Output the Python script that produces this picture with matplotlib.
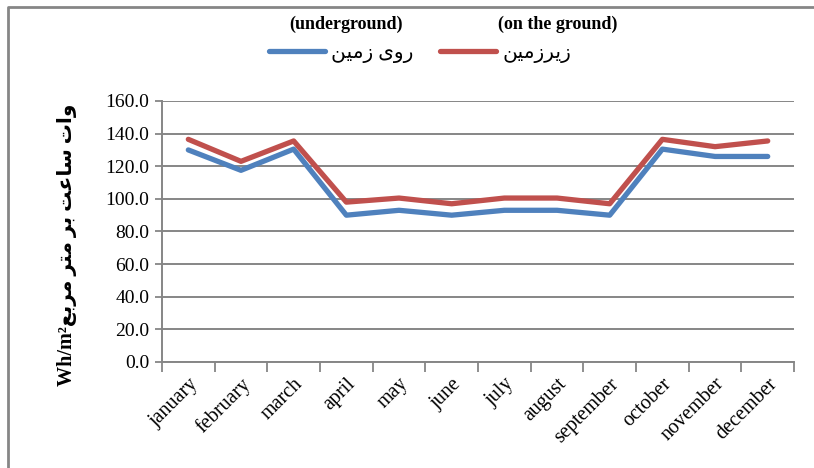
import numpy as np
import matplotlib
matplotlib.use('Agg')
import matplotlib.pyplot as plt
from matplotlib.lines import Line2D
from matplotlib.transforms import ScaledTranslation

plt.rcParams['font.family'] = ['Liberation Serif', 'DejaVu Sans']

months = ['january', 'february', 'march', 'april', 'may', 'june', 'july',
          'august', 'september', 'october', 'november', 'december']
# blue series, legend "(underground)" / روی زمین
blue_vals = [130.0, 117.5, 130.5, 90.0, 93.0, 90.0, 93.0, 93.0, 90.0, 130.5, 126.0, 126.0]
# red series, legend "(on the ground)" / زیرزمین
red_vals = [136.5, 123.0, 135.5, 98.0, 100.5, 97.0, 100.5, 100.5, 97.0, 136.5, 132.0, 135.5]
blue_label = 'روی زمین'
red_label = 'زیرزمین'
ylabel_fa = 'وات ساعت بر متر مربع'
ylabel_en = 'Wh/m\u00b2'

# matplotlib does no arabic shaping / bidi, so do a small one by hand
# letter: (isolated, final, initial, medial); None initial => right-joining only
forms = {
    'ا': ('\ufe8d', '\ufe8e', None, None),
    'ب': ('\ufe8f', '\ufe90', '\ufe91', '\ufe92'),
    'ت': ('\ufe95', '\ufe96', '\ufe97', '\ufe98'),
    'ر': ('\ufead', '\ufeae', None, None),
    'ز': ('\ufeaf', '\ufeb0', None, None),
    'س': ('\ufeb1', '\ufeb2', '\ufeb3', '\ufeb4'),
    'ع': ('\ufec9', '\ufeca', '\ufecb', '\ufecc'),
    'م': ('\ufee1', '\ufee2', '\ufee3', '\ufee4'),
    'ن': ('\ufee5', '\ufee6', '\ufee7', '\ufee8'),
    'و': ('\ufeed', '\ufeee', None, None),
    'ی': ('\ufeef', '\ufef0', '\ufef3', '\ufef4'),
}


def shape(s):
    out = []
    for i, c in enumerate(s):
        if c not in forms:
            out.append(c)
            continue
        prev = s[i - 1] if i > 0 else ''
        nxt = s[i + 1] if i + 1 < len(s) else ''
        j_prev = prev in forms and forms[prev][2] is not None
        j_next = nxt in forms and forms[c][2] is not None
        iso, fin, ini, med = forms[c]
        if j_prev and j_next:
            out.append(med)
        elif j_next:
            out.append(ini)
        elif j_prev:
            out.append(fin)
        else:
            out.append(iso)
    return ''.join(out)[::-1]


gray = '#868686'
fig = plt.figure(figsize=(8.14, 4.68), dpi=100)
ax = fig.add_axes([0.199, 0.2265, 0.7765, 0.5577])

x = np.arange(len(months))
ax.plot(x, blue_vals, color='#4F81BD', lw=3.8, solid_capstyle='round', solid_joinstyle='round',
        label=shape(blue_label))
ax.plot(x, red_vals, color='#C0504D', lw=3.8, solid_capstyle='round', solid_joinstyle='round',
        label=shape(red_label))

ax.set_xlim(-0.5, 11.5)
ax.set_ylim(0, 160)
ax.set_yticks(np.arange(0, 161, 20))
ax.set_yticklabels(['%.1f' % v for v in np.arange(0, 161, 20)], fontsize=14)
ax.set_xticks(x)
ax.set_xticklabels(months, fontsize=14.5, rotation=45, ha='right', va='top',
                   rotation_mode='anchor')
# nudge month labels a few pixels left
shift = ScaledTranslation(-4 / 100, 0, fig.dpi_scale_trans)
for lbl in ax.get_xticklabels():
    lbl.set_transform(lbl.get_transform() + shift)
ax.set_xticks(np.arange(-0.5, 12, 1), minor=True)
ax.tick_params(axis='x', which='major', length=0, pad=9)
ax.tick_params(axis='x', which='minor', length=7, color=gray, width=1.3)
ax.tick_params(axis='y', length=5, color=gray, width=1.3, pad=4)
ax.yaxis.grid(True, color=gray, lw=1.4)
ax.set_axisbelow(True)
for s in ['top', 'right']:
    ax.spines[s].set_visible(False)
for s in ['left', 'bottom']:
    ax.spines[s].set_color(gray)
    ax.spines[s].set_linewidth(1.4)

ax.set_ylabel(ylabel_en + shape(ylabel_fa), fontsize=14.5, fontweight='bold')
ax.yaxis.set_label_coords(-0.135, 0.45)

ax.legend(loc='center', bbox_to_anchor=(420 / 814, 1 - 53 / 468),
          bbox_transform=fig.transFigure, ncol=2, frameon=False, fontsize=14.5,
          handlelength=2.8, handletextpad=0.3, columnspacing=1.3)
fig.text(346 / 814, 1 - 24 / 468, '(underground)', ha='center', va='center',
         fontsize=13, fontweight='bold')
fig.text(558 / 814, 1 - 24 / 468, '(on the ground)', ha='center', va='center',
         fontsize=13, fontweight='bold')

# outer chart frame (only top and left edges visible in the crop)
fig.add_artist(Line2D([8 / 814, 8 / 814, 1], [0, 1 - 7 / 468, 1 - 7 / 468],
                      transform=fig.transFigure, color=gray, lw=2))

fig.savefig('out.png', dpi=100)
